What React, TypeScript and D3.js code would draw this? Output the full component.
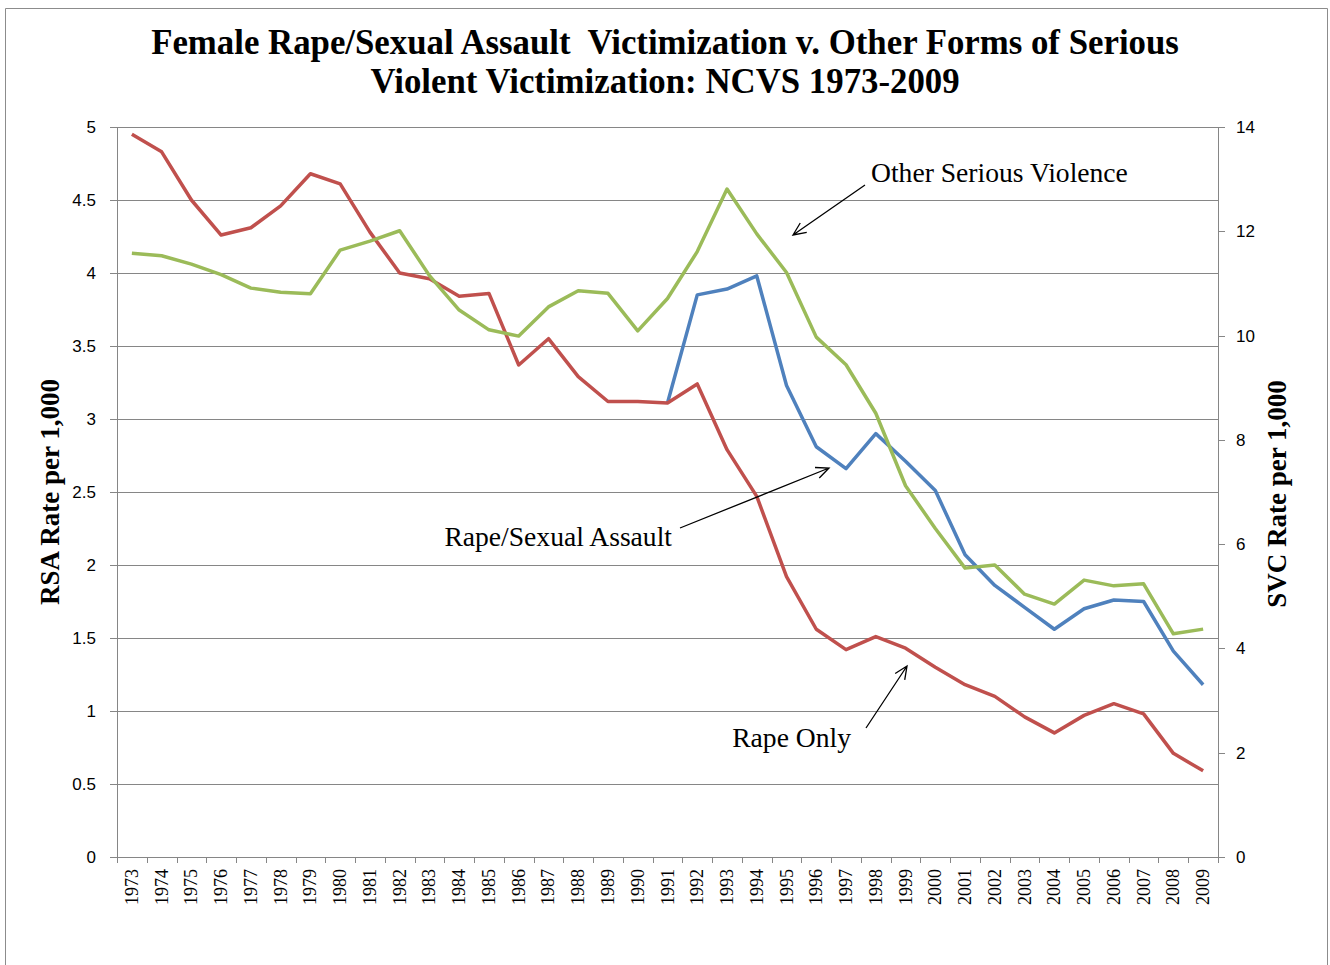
import React from "react";
import * as d3 from "d3";

const years: number[] = [
  1973, 1974, 1975, 1976, 1977, 1978, 1979, 1980, 1981, 1982,
  1983, 1984, 1985, 1986, 1987, 1988, 1989, 1990, 1991, 1992,
  1993, 1994, 1995, 1996, 1997, 1998, 1999, 2000, 2001, 2002,
  2003, 2004, 2005, 2006, 2007, 2008, 2009,
];

// Rape only (left axis, RSA rate per 1,000)
const rapeOnly: number[] = [
  4.95, 4.83, 4.5, 4.26, 4.31, 4.46, 4.68, 4.61, 4.28, 4.0,
  3.96, 3.84, 3.86, 3.37, 3.55, 3.29, 3.12, 3.12, 3.11, 3.24,
  2.79, 2.47, 1.92, 1.56, 1.42, 1.51, 1.43, 1.3, 1.18, 1.1,
  0.96, 0.85, 0.97, 1.05, 0.98, 0.71, 0.59,
];

// Rape/Sexual Assault (left axis), reported from 1991 on
const rapeSexualAssault: (number | null)[] = [
  null, null, null, null, null, null, null, null, null, null,
  null, null, null, null, null, null, null, null, 3.11, 3.85,
  3.89, 3.98, 3.23, 2.81, 2.66, 2.9, 2.71, 2.51, 2.07, 1.86,
  1.71, 1.56, 1.7, 1.76, 1.75, 1.41, 1.18,
];

// Other serious violence (right axis, SVC rate per 1,000)
const otherSerious: number[] = [
  11.58, 11.53, 11.37, 11.17, 10.91, 10.83, 10.8, 11.64, 11.81, 12.01,
  11.15, 10.49, 10.11, 9.99, 10.55, 10.86, 10.81, 10.09, 10.71, 11.61,
  12.81, 11.95, 11.21, 9.97, 9.44, 8.51, 7.12, 6.3, 5.54, 5.6,
  5.04, 4.85, 5.31, 5.2, 5.24, 4.28, 4.37,
];

const leftTicks: number[] = [0, 0.5, 1, 1.5, 2, 2.5, 3, 3.5, 4, 4.5, 5];
const rightTicks: number[] = [0, 2, 4, 6, 8, 10, 12, 14];

const titleLines: string[] = [
  "Female Rape/Sexual Assault  Victimization v. Other Forms of Serious",
  "Violent Victimization: NCVS 1973-2009",
];

const W = 1330;
const H = 965;
const plot = { left: 117, right: 1218, top: 127, bottom: 857 };
const gridColor = "#868686";
const colors = { rsa: "#4F81BD", rape: "#C0504D", osv: "#9BBB59" };
const serif = "'Liberation Serif', 'Times New Roman', serif";
const sans = "'Liberation Sans', Arial, sans-serif";

function Arrow({ x1, y1, x2, y2 }: { x1: number; y1: number; x2: number; y2: number }) {
  const ang = Math.atan2(y2 - y1, x2 - x1);
  const len = 14;
  const spread = 0.42;
  const a1 = ang + Math.PI - spread;
  const a2 = ang + Math.PI + spread;
  const d = `M${x1},${y1}L${x2},${y2}M${x2 + len * Math.cos(a1)},${y2 + len * Math.sin(a1)}L${x2},${y2}L${x2 + len * Math.cos(a2)},${y2 + len * Math.sin(a2)}`;
  return <path d={d} fill="none" stroke="#000" strokeWidth={1.3} />;
}

export default function App() {
  const x = d3.scaleBand<number>().domain(years).range([plot.left, plot.right]).padding(0);
  const cx = (yr: number) => (x(yr) as number) + x.bandwidth() / 2;
  const yL = d3.scaleLinear().domain([0, 5]).range([plot.bottom, plot.top]);
  const yR = d3.scaleLinear().domain([0, 14]).range([plot.bottom, plot.top]);

  const lineL = d3
    .line<number | null>()
    .defined((d) => d !== null)
    .x((_, i) => cx(years[i]))
    .y((d) => yL(d as number));
  const lineR = d3
    .line<number>()
    .x((_, i) => cx(years[i]))
    .y((d) => yR(d));

  const boundaries = years.map((yr) => x(yr) as number).concat([plot.right]);

  return (
    <svg
      width={W}
      height={H}
      style={{ position: "absolute", left: 0, top: 0, background: "#fff" }}
    >
      <rect x={0} y={0} width={W} height={H} fill="#fff" />
      {/* outer chart border */}
      <path d={`M5.5,${H}V8.5H1327.5V${H}`} fill="none" stroke="#8c8c8c" strokeWidth={1} />

      {/* title */}
      {titleLines.map((t, i) => (
        <text
          key={i}
          x={665}
          y={54 + i * 39}
          textAnchor="middle"
          fontFamily={serif}
          fontWeight="bold"
          fontSize={34.8}
          fill="#000"
          style={{ whiteSpace: "pre" }}
        >
          {t}
        </text>
      ))}

      {/* gridlines */}
      {leftTicks.map((t) => (
        <line
          key={"g" + t}
          x1={plot.left - 7}
          x2={plot.right}
          y1={Math.round(yL(t)) + 0.5}
          y2={Math.round(yL(t)) + 0.5}
          stroke={gridColor}
          strokeWidth={1}
        />
      ))}
      {/* left axis */}
      <line x1={plot.left + 0.5} x2={plot.left + 0.5} y1={plot.top} y2={plot.bottom} stroke={gridColor} />
      {leftTicks.map((t) => (
        <text
          key={"lt" + t}
          x={96}
          y={yL(t) + 6}
          textAnchor="end"
          fontFamily={sans}
          fontSize={17}
          fill="#000"
        >
          {String(t)}
        </text>
      ))}
      {/* right axis */}
      <line x1={plot.right + 0.5} x2={plot.right + 0.5} y1={plot.top} y2={plot.bottom} stroke={gridColor} />
      {rightTicks.map((t) => (
        <g key={"rt" + t}>
          <line
            x1={plot.right}
            x2={plot.right + 7}
            y1={Math.round(yR(t)) + 0.5}
            y2={Math.round(yR(t)) + 0.5}
            stroke={gridColor}
          />
          <text x={1236} y={yR(t) + 6} fontFamily={sans} fontSize={17} fill="#000">
            {String(t)}
          </text>
        </g>
      ))}
      {/* x ticks */}
      {boundaries.map((b, i) => (
        <line
          key={"xt" + i}
          x1={Math.round(b) + 0.5}
          x2={Math.round(b) + 0.5}
          y1={plot.bottom}
          y2={plot.bottom + 6}
          stroke={gridColor}
        />
      ))}
      {years.map((yr) => (
        <text
          key={"xl" + yr}
          transform={`translate(${cx(yr) + 6},${869}) rotate(-90)`}
          textAnchor="end"
          fontFamily={serif}
          fontSize={18}
          fill="#000"
        >
          {String(yr)}
        </text>
      ))}

      {/* axis titles */}
      <text
        transform={`translate(59,492) rotate(-90)`}
        textAnchor="middle"
        fontFamily={serif}
        fontWeight="bold"
        fontSize={27}
        fill="#000"
      >
        RSA Rate per 1,000
      </text>
      <text
        transform={`translate(1286,494) rotate(-90)`}
        textAnchor="middle"
        fontFamily={serif}
        fontWeight="bold"
        fontSize={27}
        fill="#000"
      >
        SVC Rate per 1,000
      </text>

      {/* series */}
      <path d={lineL(rapeSexualAssault) || ""} fill="none" stroke={colors.rsa} strokeWidth={3.5} strokeLinejoin="round" />
      <path d={lineL(rapeOnly) || ""} fill="none" stroke={colors.rape} strokeWidth={3.5} strokeLinejoin="round" />
      <path d={lineR(otherSerious) || ""} fill="none" stroke={colors.osv} strokeWidth={3.5} strokeLinejoin="round" />

      {/* annotations */}
      <text x={871} y={182} fontFamily={serif} fontSize={27.6} fill="#000">
        Other Serious Violence
      </text>
      <Arrow x1={865} y1={185} x2={793} y2={235} />
      <text x={672} y={546} textAnchor="end" fontFamily={serif} fontSize={27.6} fill="#000">
        Rape/Sexual Assault
      </text>
      <Arrow x1={680} y1={528} x2={829} y2={468} />
      <text x={851} y={747} textAnchor="end" fontFamily={serif} fontSize={27.6} fill="#000">
        Rape Only
      </text>
      <Arrow x1={866} y1={728} x2={907} y2={666} />
    </svg>
  );
}
